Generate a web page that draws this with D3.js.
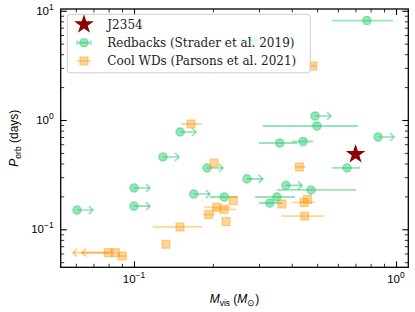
<!DOCTYPE html>
<html>
<head>
<meta charset="utf-8">
<script src="https://cdn.jsdelivr.net/npm/d3@7/dist/d3.min.js"></script>
<style>
  body { margin: 0; background: #fff; }
  text { font-family: "Liberation Sans", Arial, sans-serif; }
</style>
</head>
<body>
<svg id="chart" width="415" height="312"></svg>
<script>
// J2354
var starMass = [0.701];
var starPorb = [0.486];

// Redbacks (Strader et al. 2019)
// lo/hi = error bar ends; lim=1 -> lower limit, hi is the arrow tip
var rbMass = [0.774, 0.282, 0.491, 0.499, 0.360, 0.442, 0.854, 0.650, 0.150, 0.129, 0.100, 0.100, 0.0606, 0.190, 0.169, 0.270, 0.380, 0.221, 0.330, 0.351, 0.474];
var rbPorb = [8.13, 5.39, 1.088, 0.881, 0.616, 0.636, 0.699, 0.364, 0.777, 0.459, 0.239, 0.163, 0.150, 0.364, 0.210, 0.289, 0.252, 0.1975, 0.174, 0.1975, 0.229];
var rbLo   = [0.570, 0.249, null, 0.310, 0.300, 0.401, null, 0.570, null, null, null, null, null, null, null, null, null, 0.195, 0.300, 0.290, 0.351];
var rbHi   = [0.974, 0.310, 0.565, 0.716, 0.419, 0.482, 0.983, 0.729, 0.1725, 0.1485, 0.1151, 0.1151, 0.0697, 0.2187, 0.195, 0.310, 0.438, 0.249, 0.370, 0.412, 0.703];
var rbLim  = [0, 0, 1, 0, 0, 0, 1, 0, 1, 1, 1, 1, 1, 1, 1, 1, 1, 0, 0, 0, 0];

// Cool WDs (Parsons et al. 2021)
// lim=1 -> upper limit, lo is the arrow tip
var wdMass = [0.165, 0.482, 0.202, 0.428, 0.239, 0.207, 0.2206, 0.193, 0.2245, 0.1498, 0.1325, 0.0798, 0.0849, 0.0902, 0.367, 0.446, 0.459, 0.448];
var wdPorb = [0.919, 3.12, 0.404, 0.372, 0.183, 0.159, 0.1524, 0.1366, 0.1174, 0.105, 0.0729, 0.0611, 0.0611, 0.057, 0.1704, 0.176, 0.188, 0.132];
var wdLo   = [0.151, 0.470, null, 0.412, null, 0.185, 0.200, 0.184, null, 0.118, null, 0.0585, 0.0633, 0.087, null, 0.401, null, 0.364];
var wdHi   = [0.182, 0.495, null, 0.453, null, 0.235, 0.245, 0.204, null, 0.182, null, null, null, 0.094, null, 0.491, null, 0.531];
var wdLim  = [0, 0, 0, 0, 0, 0, 0, 0, 0, 0, 0, 1, 1, 0, 0, 0, 0, 0];

var xMajor = [0.1, 1];
var yMajor = [0.1, 1, 10];
var xMinor = [0.06, 0.07, 0.08, 0.09, 0.2, 0.3, 0.4, 0.5, 0.6, 0.7, 0.8, 0.9];
var yMinor = [0.05, 0.06, 0.07, 0.08, 0.09, 0.2, 0.3, 0.4, 0.5, 0.6, 0.7, 0.8, 0.9, 2, 3, 4, 5, 6, 7, 8, 9];
var xTickExp = ["\u22121", "0"];
var yTickExp = ["\u22121", "0", "1"];

var legendLabels = ["J2354", "Redbacks (Strader et al. 2019)", "Cool WDs (Parsons et al. 2021)"];

// Colors
var GREEN = "#2ecc71", ORANGE = "#ff9500", STAR = "#8b0000";

var W = 415, H = 312;
var m = { l: 60.7, t: 9, r: 6.7, b: 44.7 };

var svg = d3.select("#chart");

var x = d3.scaleLog().domain([0.05251, 1.1142]).range([m.l, W - m.r]);
var y = d3.scaleLog().domain([0.04489, 10.37]).range([H - m.b, m.t]);

var plot = svg.append("g").attr("class", "plot");

// Clip to the axes box
svg.append("clipPath").attr("id", "clip")
  .append("rect")
  .attr("x", m.l).attr("y", m.t)
  .attr("width", W - m.l - m.r).attr("height", H - m.t - m.b);
plot.attr("clip-path", "url(#clip)");

function zip(a, b, lo, hi, lim) {
  return a.map(function(d, i) { return { m: d, p: b[i], lo: lo[i], hi: hi[i], lim: lim[i] }; });
}
var rb = zip(rbMass, rbPorb, rbLo, rbHi, rbLim);
var wd = zip(wdMass, wdPorb, wdLo, wdHi, wdLim);

// chevron arrow head, pointing right (dir=1) or left (dir=-1)
function chevron(px, py, dir) {
  var s = 4;
  return "M" + (px - dir * s) + "," + (py - s) + "L" + px + "," + py + "L" + (px - dir * s) + "," + (py + s);
}

// ---- Redbacks
var gRb = plot.append("g").attr("class", "redbacks");

rb.forEach(function(d) {
  var g = gRb.append("g");
  var cx = x(d.m), cy = y(d.p);
  if (d.lim) {
    g.append("line")
      .attr("x1", cx).attr("x2", x(d.hi)).attr("y1", cy).attr("y2", cy)
      .style("stroke", GREEN).style("stroke-opacity", 0.55).style("stroke-width", 1.6);
    g.append("path")
      .attr("d", chevron(x(d.hi), cy, 1))
      .style("fill", "none").style("stroke", GREEN).style("stroke-opacity", 0.55).style("stroke-width", 1.6);
  } else if (d.lo != null) {
    g.append("line")
      .attr("x1", x(d.lo)).attr("x2", x(d.hi)).attr("y1", cy).attr("y2", cy)
      .style("stroke", GREEN).style("stroke-opacity", 0.5).style("stroke-width", 1.8);
  }
  g.append("circle")
    .attr("cx", cx).attr("cy", cy).attr("r", 4.2)
    .style("fill", GREEN).style("fill-opacity", 0.5)
    .style("stroke", GREEN).style("stroke-opacity", 0.5).style("stroke-width", 1.2);
});

// ---- Cool WDs
var gWd = plot.append("g").attr("class", "coolwds");

wd.forEach(function(d) {
  var g = gWd.append("g");
  var cx = x(d.m), cy = y(d.p);
  if (d.lim) {
    g.append("line")
      .attr("x1", cx).attr("x2", x(d.lo)).attr("y1", cy).attr("y2", cy)
      .style("stroke", ORANGE).style("stroke-opacity", 0.5).style("stroke-width", 1.6);
    g.append("path")
      .attr("d", chevron(x(d.lo), cy, -1))
      .style("fill", "none").style("stroke", ORANGE).style("stroke-opacity", 0.5).style("stroke-width", 1.6);
  } else if (d.lo != null) {
    g.append("line")
      .attr("x1", x(d.lo)).attr("x2", x(d.hi)).attr("y1", cy).attr("y2", cy)
      .style("stroke", ORANGE).style("stroke-opacity", 0.4).style("stroke-width", 1.8);
  }
  g.append("rect")
    .attr("x", cx - 4).attr("y", cy - 4).attr("width", 8).attr("height", 8)
    .style("fill", ORANGE).style("fill-opacity", 0.4)
    .style("stroke", ORANGE).style("stroke-opacity", 0.4).style("stroke-width", 1.2);
});

// ---- J2354 star
plot.selectAll("path.star")
  .data(starMass)
  .enter().append("path")
  .attr("class", "star")
  .attr("d", d3.symbol(d3.symbolStar).size(120))
  .attr("transform", function(d, i) { return translate(x(d), y(starPorb[i])); })
  .style("fill", STAR);

// ---- Axes (ticks inward on all four sides)
function tickAxis(axis, pos, vals, size, sw) {
  svg.append("g")
    .attr("transform", pos)
    .call(axis.tickValues(vals).tickSizeInner(-size).tickSizeOuter(0).tickFormat(""))
    .call(function(g) { g.select(".domain").remove(); })
    .selectAll("line").style("stroke", "#000").style("stroke-width", sw);
}
var bottomPos = translate(0, H - m.b), topPos = translate(0, m.t);
var leftPos = translate(m.l, 0), rightPos = translate(W - m.r, 0);

tickAxis(d3.axisBottom(x), bottomPos, xMajor, 6, 1.1);
tickAxis(d3.axisBottom(x), bottomPos, xMinor, 3.5, 0.8);
tickAxis(d3.axisTop(x), topPos, xMajor, 6, 1.1);
tickAxis(d3.axisTop(x), topPos, xMinor, 3.5, 0.8);
tickAxis(d3.axisLeft(y), leftPos, yMajor, 6, 1.1);
tickAxis(d3.axisLeft(y), leftPos, yMinor, 3.5, 0.8);
tickAxis(d3.axisRight(y), rightPos, yMajor, 6, 1.1);
tickAxis(d3.axisRight(y), rightPos, yMinor, 3.5, 0.8);

// Frame
svg.append("rect")
  .attr("x", m.l).attr("y", m.t)
  .attr("width", W - m.l - m.r).attr("height", H - m.t - m.b)
  .style("fill", "none").style("stroke", "#000").style("stroke-width", 1.3);

// Tick labels as 10^n
var xl = svg.append("g").attr("class", "xlabels")
  .selectAll("text").data(xMajor).enter().append("text")
  .attr("x", function(d) { return x(d); })
  .attr("y", H - m.b + 16)
  .style("text-anchor", "middle")
  .style("font-size", "11.5px");
xl.append("tspan").text("10");
xl.append("tspan").attr("dy", -5).style("font-size", "8.5px").text(function(d, i) { return xTickExp[i]; });

var yl = svg.append("g").attr("class", "ylabels")
  .selectAll("text").data(yMajor).enter().append("text")
  .attr("x", m.l - 7)
  .attr("y", function(d) { return y(d) + 4; })
  .style("text-anchor", "end")
  .style("font-size", "11.5px");
yl.append("tspan").text("10");
yl.append("tspan").attr("dy", -5).style("font-size", "8.5px").text(function(d, i) { return yTickExp[i]; });

// Axis titles
var xt = svg.append("text")
  .attr("x", (m.l + W - m.r) / 2)
  .attr("y", H - 9)
  .style("text-anchor", "middle")
  .style("font-size", "12px");
xt.append("tspan").style("font-style", "italic").text("M");
xt.append("tspan").attr("dy", 2.5).style("font-size", "8.5px").text("vis");
xt.append("tspan").attr("dy", -2.5).text(" (");
xt.append("tspan").style("font-style", "italic").text("M");
xt.append("tspan").attr("dy", 2.5).style("font-size", "8.5px").text("\u2299");
xt.append("tspan").attr("dy", -2.5).text(")");

var yt = svg.append("text")
  .attr("transform", translate(18, (m.t + H - m.b) / 2) + " " + rotate(-90))
  .style("text-anchor", "middle")
  .style("font-size", "12px");
yt.append("tspan").style("font-style", "italic").text("P");
yt.append("tspan").attr("dy", 2.5).style("font-size", "8.5px").text("orb");
yt.append("tspan").attr("dy", -2.5).text(" (days)");

// ---- Legend
var lg = svg.append("g").attr("class", "legend").attr("transform", translate(67.3, 14.3));
lg.append("rect")
  .attr("width", 243).attr("height", 58.5).attr("rx", 3)
  .style("fill", "#fff").style("fill-opacity", 0.8)
  .style("stroke", "#ccc").style("stroke-width", 1);

var rowY = [10.2, 28.4, 46.7];
var hx = 16.7;

lg.append("path")
  .attr("d", d3.symbol(d3.symbolStar).size(120))
  .attr("transform", translate(hx, rowY[0]))
  .style("fill", STAR);

lg.append("line")
  .attr("x1", hx - 7).attr("x2", hx + 7).attr("y1", rowY[1]).attr("y2", rowY[1])
  .style("stroke", GREEN).style("stroke-opacity", 0.5).style("stroke-width", 1.8);
lg.selectAll("line.cap").data([-7, 7]).enter().append("line")
  .attr("x1", function(d) { return hx + d; }).attr("x2", function(d) { return hx + d; })
  .attr("y1", rowY[1] - 2.5).attr("y2", rowY[1] + 2.5)
  .style("stroke", GREEN).style("stroke-opacity", 0.5).style("stroke-width", 1.2);
lg.append("circle")
  .attr("cx", hx).attr("cy", rowY[1]).attr("r", 4.2)
  .style("fill", GREEN).style("fill-opacity", 0.5)
  .style("stroke", GREEN).style("stroke-opacity", 0.5).style("stroke-width", 1.2);

lg.append("line")
  .attr("x1", hx - 7).attr("x2", hx + 7).attr("y1", rowY[2]).attr("y2", rowY[2])
  .style("stroke", ORANGE).style("stroke-opacity", 0.4).style("stroke-width", 1.8);
lg.append("rect")
  .attr("x", hx - 4).attr("y", rowY[2] - 4).attr("width", 8).attr("height", 8)
  .style("fill", ORANGE).style("fill-opacity", 0.4)
  .style("stroke", ORANGE).style("stroke-opacity", 0.4).style("stroke-width", 1.2);

lg.selectAll("text.entry").data(legendLabels).enter().append("text")
  .attr("class", "entry")
  .attr("x", 40)
  .attr("y", function(d, i) { return rowY[i] + 4.4; })
  .style("font-family", "'DejaVu Serif', serif")
  .style("font-size", "12px")
  .style("fill", "#222")
  .text(function(d) { return d; });

function translate(a, b) { return "translate(" + a + " " + b + ")"; }
function rotate(a) { return "rotate(" + a + ")"; }
</script>
</body>
</html>
